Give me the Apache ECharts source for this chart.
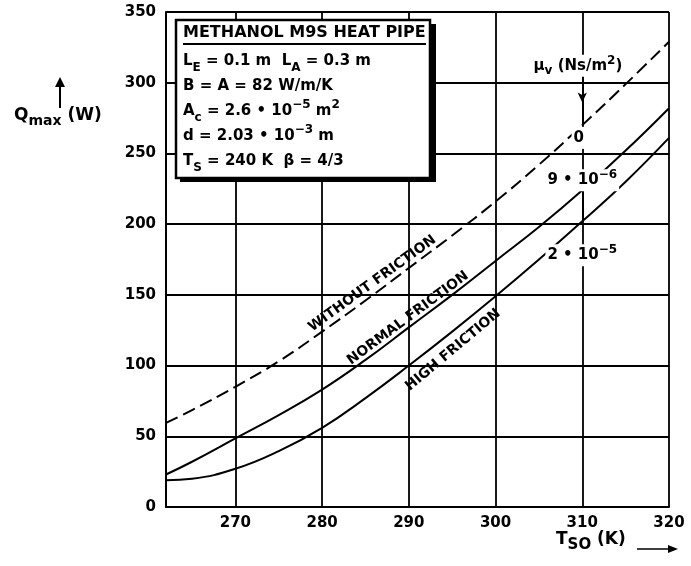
<!DOCTYPE html>
<html>
<head>
<meta charset="utf-8">
<script src="https://cdn.jsdelivr.net/npm/echarts@6/dist/echarts.min.js"></script>
<style>
html,body{margin:0;padding:0;background:#fff;}
#chart{width:691px;height:566px;}
</style>
</head>
<body>
<div id="chart"></div>
<script>
// ---- data ----
const xValues = [262, 265, 270, 275, 280, 285, 290, 295, 300, 305, 310, 315, 320];
const withoutFriction = [59.5, 68.5, 85, 103, 124, 146, 169, 192, 216, 242, 270, 299, 329];
const normalFriction = [23, 32, 48.5, 65, 83, 104, 127, 150, 174, 198, 224, 252, 282];
const highFriction = [19, 20, 27, 39.5, 56, 77, 100, 124, 149, 175, 202, 230, 261];
const xTicks = [270, 280, 290, 300, 310, 320];
const curveLabels = [
  {text: 'WITHOUT FRICTION', x: 285.8, y: 158, rotate: 36},
  {text: 'NORMAL FRICTION', x: 289.9, y: 133.5, rotate: 36.5},
  {text: 'HIGH FRICTION', x: 295.1, y: 111, rotate: 40}
];
const muLabels = [
  {rich: '{b|μ}{sub|v}{b| (Ns/m}{sup|2}{b|)}', x: 309.5, y: 312},
  {rich: '{b|0}', x: 309.6, y: 261},
  {rich: '{b|9 • 10}{sup|−6}', x: 310, y: 231},
  {rich: '{b|2 • 10}{sup|−5}', x: 310, y: 178}
];

const pair = (xs, ys) => xs.map((x, i) => [x, ys[i]]);
const FONT = '"DejaVu Sans", "Liberation Sans", Arial, sans-serif';
function richSet(base, small, lh) {
  return {
    b: {fontSize: base, fontWeight: 'bold', fontFamily: FONT, color: '#000', lineHeight: lh, verticalAlign: 'middle'},
    sub: {fontSize: small, fontWeight: 'bold', fontFamily: FONT, color: '#000', lineHeight: small, verticalAlign: 'bottom'},
    sup: {fontSize: small, fontWeight: 'bold', fontFamily: FONT, color: '#000', lineHeight: small, verticalAlign: 'top'}
  };
}

const chart = echarts.init(document.getElementById('chart'), null, {renderer: 'canvas'});
const lineW = 2;
const SMOOTH = 0.45;
const option = {
  animation: false,
  backgroundColor: '#fff',
  grid: {left: 166, right: 22, top: 12, bottom: 59, containLabel: false},
  xAxis: {
    type: 'value', min: 262, max: 320,
    axisLine: {show: true, lineStyle: {color: '#000', width: 2}},
    axisTick: {show: false, customValues: xTicks},
    axisLabel: {customValues: xTicks, color: '#000', fontFamily: FONT, fontWeight: 'bold', fontSize: 15, margin: 9},
    splitLine: {show: true, lineStyle: {color: '#000', width: 1.8}}
  },
  yAxis: {
    type: 'value', min: 0, max: 350, interval: 50,
    axisLine: {show: true, lineStyle: {color: '#000', width: 2}},
    axisTick: {show: false},
    axisLabel: {color: '#000', fontFamily: FONT, fontWeight: 'bold', fontSize: 15, margin: 10},
    splitLine: {show: true, lineStyle: {color: '#000', width: 1.8}}
  },
  series: [
    {
      name: 'Without friction', type: 'line', smooth: SMOOTH, showSymbol: false,
      data: pair(xValues, withoutFriction),
      lineStyle: {color: '#000', width: lineW, type: [13, 6]},
      z: 3,
      markLine: {
        silent: true, symbol: ['none', 'none'],
        lineStyle: {color: '#000', width: 2, type: 'solid'},
        label: {show: false},
        data: [
          [{coord: [310, 305], symbol: 'none'}, {coord: [310, 286], symbol: 'arrow', symbolSize: [7, 10]}],
          [{coord: [310, 288]}, {coord: [310, 271]}],
          [{coord: [310, 223]}, {coord: [310, 203]}]
        ]
      },
      markPoint: {
        symbol: 'circle', symbolSize: 0, silent: true,
        data: curveLabels.map(c => ({
          coord: [c.x, c.y],
          label: {show: true, formatter: c.text, rotate: c.rotate, position: 'inside',
            color: '#000', fontFamily: FONT, fontWeight: 'bold', fontSize: 14}
        })).concat(muLabels.map(m => ({
          coord: [m.x, m.y],
          label: {show: true, formatter: m.rich, position: 'inside', backgroundColor: '#fff',
            padding: [0, 2], rich: richSet(15, 12, 22)}
        })))
      }
    },
    {
      name: 'Normal friction', type: 'line', smooth: SMOOTH, showSymbol: false,
      data: pair(xValues, normalFriction),
      lineStyle: {color: '#000', width: lineW}, z: 3
    },
    {
      name: 'High friction', type: 'line', smooth: SMOOTH, showSymbol: false,
      data: pair(xValues, highFriction),
      lineStyle: {color: '#000', width: lineW}, z: 3
    }
  ],
  graphic: [
    // info box shadow + box
    {type: 'rect', shape: {x: 180, y: 24, width: 256, height: 158}, style: {fill: '#000'}, z: 10},
    {type: 'rect', shape: {x: 176, y: 20, width: 254, height: 158}, style: {fill: '#fff', stroke: '#000', lineWidth: 2.5}, z: 11},
    {type: 'text', left: 183, top: 25, z: 12,
      style: {text: 'METHANOL M9S HEAT PIPE', fill: '#000', font: 'bold 16px "DejaVu Sans", sans-serif'}},
    {type: 'line', shape: {x1: 183, y1: 44, x2: 426, y2: 44}, style: {stroke: '#000', lineWidth: 2}, z: 12},
    {type: 'text', left: 183, top: 54, z: 12,
      style: {
        text: '{b|L}{sub|E}{b| = 0.1 m  L}{sub|A}{b| = 0.3 m}\n' +
              '{b|B = A = 82 W/m/K}\n' +
              '{b|A}{sub|c}{b| = 2.6 • 10}{sup|−5}{b| m}{sup|2}\n' +
              '{b|d = 2.03 • 10}{sup|−3}{b| m}\n' +
              '{b|T}{sub|S}{b| = 240 K  β = 4/3}',
        rich: richSet(15, 12, 25)
      }},
    // y axis name
    {type: 'text', left: 14, top: 107, z: 12,
      style: {text: '{b|Q}{sub|max}{b| (W)}', rich: richSet(17, 14, 26)}},
    {type: 'line', shape: {x1: 60, y1: 108, x2: 60, y2: 84}, style: {stroke: '#000', lineWidth: 2}, z: 12},
    {type: 'polygon', shape: {points: [[55, 87], [65, 87], [60, 77]]}, style: {fill: '#000'}, z: 12},
    // x axis name
    {type: 'text', left: 556, top: 531, z: 12,
      style: {text: '{b|T}{sub|SO}{b| (K)}', rich: richSet(17, 15, 26)}},
    {type: 'line', shape: {x1: 637, y1: 549, x2: 672, y2: 549}, style: {stroke: '#000', lineWidth: 1.5}, z: 12},
    {type: 'polygon', shape: {points: [[668, 545], [668, 553], [678, 549]]}, style: {fill: '#000'}, z: 12}
  ]
};
chart.setOption(option);
</script>
</body>
</html>
